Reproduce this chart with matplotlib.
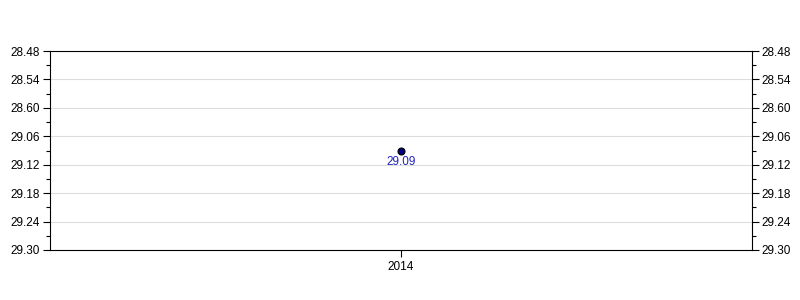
import matplotlib
matplotlib.use("Agg")
import matplotlib.pyplot as plt

plt.rcParams['font.family'] = ['Liberation Sans', 'DejaVu Sans']

# data (times as min.sec)
years = ['2014']
times = ['29.09']
tick_labels = ['28.48', '28.54', '28.60', '29.06', '29.12', '29.18', '29.24', '29.30']


def to_sec(t):
    m, s = t.split('.')
    return int(m) * 60 + int(s)


secs = [to_sec(t) for t in times]
tick_secs = [to_sec(t) for t in tick_labels]

fig = plt.figure(figsize=(8, 3), dpi=100)
ax = fig.add_axes([50 / 800, 50 / 300, 702 / 800, 199 / 300])

xs = list(range(len(years)))
ax.plot(xs, secs, 'o', ms=5, mfc='#000080', mec='black', mew=0.8, zorder=3)
for x, s, t in zip(xs, secs, times):
    ax.annotate(t, (x, s), xytext=(0, -4), textcoords='offset points',
                ha='center', va='top', color='#2222bb', fontsize=8.5)

ax.set_xlim(-1, 1)
ax.set_xticks(xs)
ax.set_xticklabels(years)
ax.set_ylim(tick_secs[-1], tick_secs[0])
ax.set_yticks(tick_secs)
ax.set_yticklabels(tick_labels)
ax.set_yticks([(a + b) / 2 for a, b in zip(tick_secs[:-1], tick_secs[1:])], minor=True)
ax.grid(axis='y', color='#dddddd', lw=0.8)
ax.set_axisbelow(True)

ax.tick_params(axis='y', which='major', length=5, width=0.8, labelsize=8.5,
               right=True, labelright=True, pad=2)
ax.tick_params(axis='y', which='minor', length=3, width=0.8, right=True)
ax.tick_params(axis='x', length=5, width=0.8, labelsize=8.5, pad=3)
for sp in ax.spines.values():
    sp.set_linewidth(0.8)

fig.savefig('out.png', dpi=100)
